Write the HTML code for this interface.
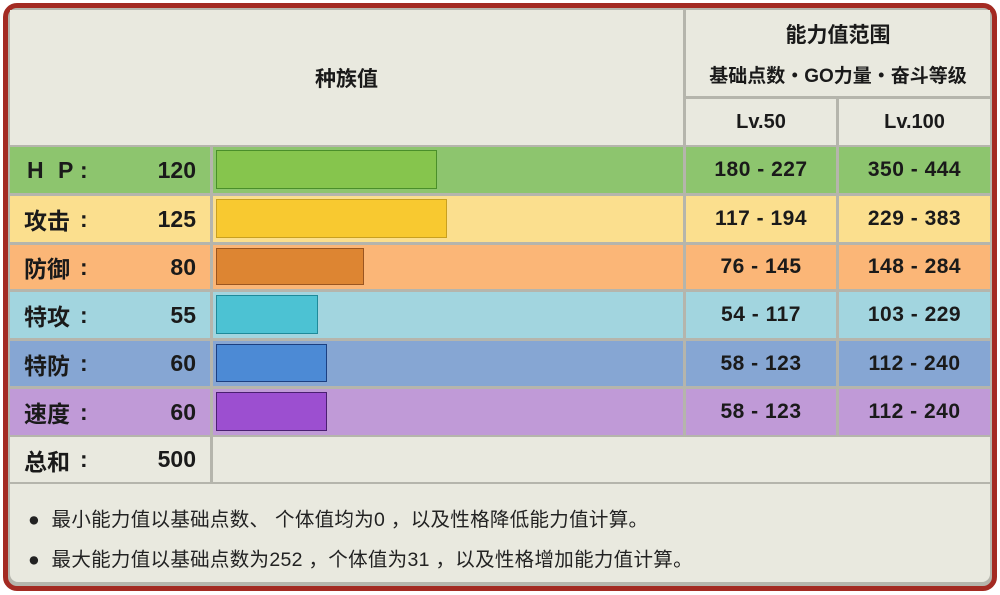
<!DOCTYPE html>
<html><head><meta charset="utf-8"><style>
*{margin:0;padding:0;box-sizing:border-box}
body{width:1000px;height:595px;background:#fff;position:relative;overflow:hidden;font-family:"Liberation Sans","Noto Sans CJK SC",sans-serif;color:#1a1a1a}
.frame{position:absolute;left:3px;top:3px;width:994px;height:588px;border:5px solid #a32a22;border-radius:14px;background:#b5b5ac}
.c{position:absolute;display:flex;align-items:center;justify-content:center;font-weight:bold}
.lab{position:absolute;font-size:23px;font-weight:bold;display:flex;align-items:center}
.bar{position:absolute;border:1.5px solid}
.num{font-size:21px;letter-spacing:0.5px}
.note{position:absolute;left:28px;font-size:19.5px;color:#222;letter-spacing:0.3px}
</style></head><body>
<div class="frame"></div>
<div class="c" style="left:10px;top:10px;width:673px;height:135px;background:#e9e9df;font-size:21px">种族值</div>
<div class="c" style="left:686px;top:10px;width:304px;height:86px;background:#e9e9df;flex-direction:column;font-size:20px"><div style="margin-bottom:12px;font-size:21px">能力值范围</div><div style="font-size:19px">基础点数・GO力量・奋斗等级</div></div>
<div class="c" style="left:686px;top:99px;width:150px;height:46px;background:#e9e9df;font-size:20px">Lv.50</div>
<div class="c" style="left:839px;top:99px;width:151px;height:46px;background:#e9e9df;font-size:20px">Lv.100</div>
<div id="rows"></div>
<script>
var R=[["H P","120",147,46,"#8dc56e","#86c54d","#4a8f2a",221,"180 - 227","350 - 444"],
["攻击","125",196,46,"#fbdf8e","#f8c930","#c9a020",231,"117 - 194","229 - 383"],
["防御","80",245,44,"#fbb677","#dd8532","#9a5520",148,"76 - 145","148 - 284"],
["特攻","55",292,46,"#a2d5df","#4cc2d3","#1e8a9a",102,"54 - 117","103 - 229"],
["特防","60",341,45,"#86a6d3","#4c8ad5","#1c3f80",111,"58 - 123","112 - 240"],
["速度","60",389,46,"#c09ad7","#9c4fd0","#4a1f70",111,"58 - 123","112 - 240"]];
var h="";
R.forEach(function(r){
h+='<div style="position:absolute;left:10px;top:'+r[2]+'px;width:200px;height:'+r[3]+'px;background:'+r[4]+'"></div>';
h+='<div class="lab" style="left:'+(r[0]=="H P"?27:24)+'px;top:'+r[2]+'px;height:'+r[3]+'px;'+(r[0]=="H P"?'letter-spacing:4px':'')+'">'+r[0]+'</div>';
h+='<div class="lab" style="left:80px;top:'+r[2]+'px;height:'+r[3]+'px">:</div>';
h+='<div class="lab" style="left:110px;width:86px;justify-content:flex-end;top:'+r[2]+'px;height:'+r[3]+'px;font-size:23px">'+r[1]+'</div>';
h+='<div style="position:absolute;left:213px;top:'+r[2]+'px;width:470px;height:'+r[3]+'px;background:'+r[4]+'"></div>';
h+='<div class="bar" style="left:216px;top:'+(r[2]+3)+'px;width:'+r[7]+'px;height:'+(r[3]-7)+'px;background:'+r[5]+';border-color:'+r[6]+'"></div>';
h+='<div class="c num" style="left:686px;top:'+r[2]+'px;width:150px;height:'+r[3]+'px;background:'+r[4]+'">'+r[8]+'</div>';
h+='<div class="c num" style="left:839px;top:'+r[2]+'px;width:151px;height:'+r[3]+'px;background:'+r[4]+'">'+r[9]+'</div>';
});
document.getElementById("rows").innerHTML=h;
</script>
<div style="position:absolute;left:10px;top:437px;width:200px;height:45px;background:#e9e9df"></div>
<div class="lab" style="left:24px;top:437px;height:45px">总和</div>
<div class="lab" style="left:80px;top:437px;height:45px">:</div>
<div class="lab" style="left:110px;width:86px;justify-content:flex-end;top:437px;height:45px">500</div>
<div style="position:absolute;left:213px;top:437px;width:777px;height:45px;background:#e9e9df"></div>
<div style="position:absolute;left:10px;top:484px;width:980px;height:98px;background:#e9e9df;border-radius:0 0 8px 8px"></div>
<div class="note" style="top:503px">●&nbsp; 最小能力值以基础点数、 个体值均为0 ，以及性格降低能力值计算。</div>
<div class="note" style="top:543px">●&nbsp; 最大能力值以基础点数为252 ，个体值为31 ，以及性格增加能力值计算。</div>
</body></html>
